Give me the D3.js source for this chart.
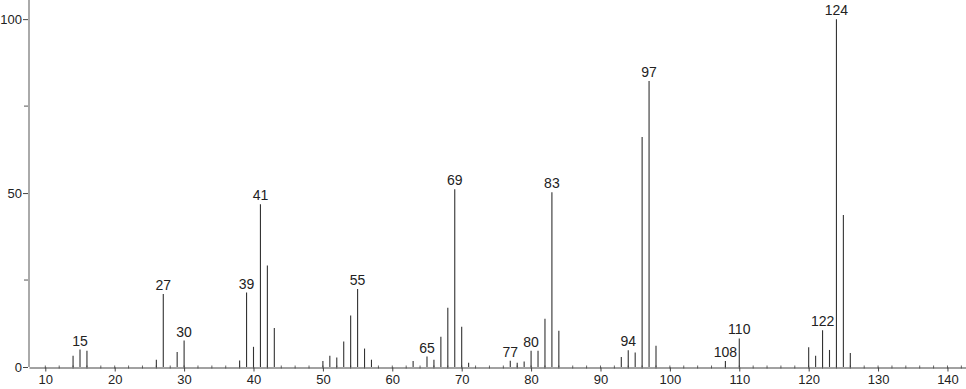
<!DOCTYPE html>
<html>
<head>
<meta charset="utf-8">
<script src="https://cdn.jsdelivr.net/npm/d3@7"></script>
<style>
  body { margin: 0; background: #fff; }
  svg { display: block; }
  text { font-family: "Liberation Sans", Arial, sans-serif; fill: #222; }
</style>
</head>
<body>
<svg width="966" height="389"></svg>
<script>
// m/z values and relative intensities
var mz = [14, 15, 16, 26, 27, 29, 30, 38, 39, 40, 41, 42, 43,
          50, 51, 52, 53, 54, 55, 56, 57, 63, 65, 66, 67, 68, 69, 70, 71,
          77, 78, 79, 80, 81, 82, 83, 84, 93, 94, 95, 96, 97, 98,
          108, 110, 120, 121, 122, 123, 124, 125, 126];
var intensity = [3.2, 5.0, 4.7, 2.1, 21.0, 4.3, 7.6, 1.9, 21.4, 5.8, 46.8, 29.2, 11.2,
                 1.7, 3.2, 2.7, 7.3, 14.8, 22.4, 5.3, 2.1, 1.7, 3.0, 2.1, 8.7, 17.0, 51.1, 11.6, 1.2,
                 1.8, 1.2, 1.6, 4.7, 4.7, 13.9, 50.2, 10.4, 2.9, 4.8, 4.2, 66.1, 82.2, 6.1,
                 1.7, 8.2, 5.7, 3.2, 10.6, 4.9, 100, 43.7, 4.0];
// peaks that carry a label
var labelled = [15, 27, 30, 39, 41, 55, 65, 69, 77, 80, 83, 94, 97, 108, 110, 122, 124];
var xTicks = [10, 20, 30, 40, 50, 60, 70, 80, 90, 100, 110, 120, 130, 140];
var yTicks = [0, 50, 100];
var yMinor = [25, 75];

var svg = d3.select("svg");

var x = d3.scaleLinear().domain([7.65, 142.67]).range([29, 966]);
var y = d3.scaleLinear().domain([0, 105.5]).range([367, 0]);

var peaks = mz.map(function(m, i) { return {mz: m, v: intensity[i]}; });

// minor x ticks every 2
svg.append("g")
    .attr("transform", "translate(0,367.5)")
    .selectAll("line")
    .data(d3.range(10, 143, 2))
    .enter()
    .append("line")
    .attr("x1", function(d) { return x(d); })
    .attr("x2", function(d) { return x(d); })
    .attr("y1", -2)
    .attr("y2", 1)
    .attr("stroke", "#666");

// x axis
var xAxis = svg.append("g")
    .attr("transform", "translate(0,367.5)")
    .call(d3.axisBottom(x).tickValues(xTicks).tickSize(4).tickSizeOuter(0).tickPadding(3));
xAxis.select(".domain").attr("stroke", "#444");
xAxis.selectAll(".tick line").attr("stroke", "#444");
xAxis.selectAll(".tick text")
    .style("font-size", "13px")
    .style("font-family", "Liberation Sans, Arial, sans-serif")
    .attr("fill", "#222");

// y axis (grey thick line)
svg.append("line")
    .attr("x1", 29).attr("x2", 29)
    .attr("y1", y(105.5)).attr("y2", y(0))
    .attr("stroke", "#aaa")
    .attr("stroke-width", 2);

svg.selectAll(".ymin")
    .data(yMinor)
    .enter()
    .append("line")
    .attr("class", "ymin")
    .attr("x1", 24).attr("x2", 28)
    .attr("y1", function(d) { return y(d); })
    .attr("y2", function(d) { return y(d); })
    .attr("stroke", "#555");

var yAxis = svg.append("g")
    .attr("transform", "translate(28,0)")
    .call(d3.axisLeft(y).tickValues(yTicks).tickSize(5).tickSizeOuter(0).tickPadding(1));
yAxis.select(".domain").remove();
yAxis.selectAll(".tick line").attr("stroke", "#444");
yAxis.selectAll(".tick text")
    .style("font-size", "13px")
    .style("font-family", "Liberation Sans, Arial, sans-serif")
    .attr("fill", "#222");

// sticks
svg.selectAll(".peak")
    .data(peaks)
    .enter()
    .append("line")
    .attr("class", "peak")
    .attr("x1", function(d) { return x(d.mz); })
    .attr("x2", function(d) { return x(d.mz); })
    .attr("y1", y(0))
    .attr("y2", function(d) { return y(d.v); })
    .attr("stroke", "#333")
    .attr("stroke-width", 1.1);

// peak labels
svg.selectAll(".plabel")
    .data(peaks.filter(function(d) { return labelled.indexOf(d.mz) >= 0; }))
    .enter()
    .append("text")
    .attr("class", "plabel")
    .attr("x", function(d) { return x(d.mz); })
    .attr("y", function(d) { return y(d.v) - 4; })
    .attr("text-anchor", "middle")
    .style("font-size", "14px")
    .text(function(d) { return d.mz; });
</script>
</body>
</html>
